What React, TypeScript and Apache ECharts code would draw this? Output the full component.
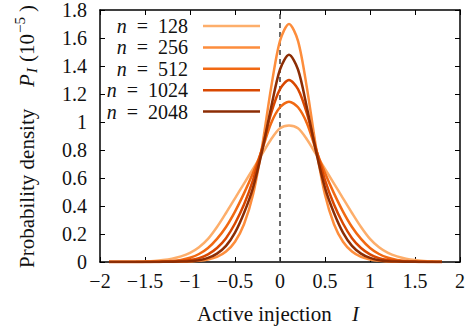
import React, { useEffect, useRef } from "react";
import * as echarts from "echarts";

// Sample positions (Active injection I)
const xValues = [
  -1.9, -1.8, -1.7, -1.6, -1.5, -1.4, -1.3, -1.2, -1.1, -1.0,
  -0.9, -0.8, -0.7, -0.6, -0.5, -0.4, -0.3, -0.2, -0.1, 0.0,
  0.1, 0.2, 0.3, 0.4, 0.5, 0.6, 0.7, 0.8, 0.9, 1.0,
  1.1, 1.2, 1.3, 1.4, 1.5, 1.6, 1.7, 1.8,
];

// Probability density values (units of 1e-5)
const p128 = [
  0.001, 0.001, 0.002, 0.003, 0.005, 0.008, 0.014, 0.024, 0.04, 0.065,
  0.105, 0.165, 0.25, 0.35, 0.455, 0.56, 0.665, 0.77, 0.875, 0.955,
  0.975, 0.955, 0.875, 0.77, 0.665, 0.56, 0.455, 0.35, 0.25, 0.165,
  0.105, 0.065, 0.04, 0.024, 0.014, 0.008, 0.005, 0.003,
];
const p256 = [
  0, 0, 0, 0, 0, 0, 0.001, 0.001, 0.002, 0.004,
  0.008, 0.018, 0.037, 0.075, 0.145, 0.27, 0.48, 0.82, 1.24, 1.58,
  1.7, 1.58, 1.24, 0.82, 0.48, 0.27, 0.145, 0.075, 0.037, 0.018,
  0.008, 0.004, 0.002, 0.001, 0.001, 0, 0, 0,
];
const p512 = [
  0, 0, 0, 0, 0.001, 0.002, 0.0035, 0.007, 0.015, 0.03,
  0.057, 0.1, 0.165, 0.25, 0.36, 0.49, 0.635, 0.8, 0.99, 1.105,
  1.145, 1.105, 0.99, 0.8, 0.635, 0.49, 0.36, 0.25, 0.165, 0.1,
  0.057, 0.03, 0.015, 0.007, 0.0035, 0.002, 0.001, 0,
];
const p1024 = [
  0, 0, 0, 0, 0, 0.001, 0.0015, 0.003, 0.007, 0.014,
  0.028, 0.055, 0.1, 0.17, 0.275, 0.41, 0.585, 0.81, 1.06, 1.235,
  1.3, 1.235, 1.06, 0.81, 0.585, 0.41, 0.275, 0.17, 0.1, 0.055,
  0.028, 0.014, 0.007, 0.003, 0.0015, 0.001, 0, 0,
];
const p2048 = [
  0, 0, 0, 0, 0, 0, 0.001, 0.0015, 0.003, 0.006,
  0.013, 0.029, 0.06, 0.115, 0.21, 0.35, 0.53, 0.79, 1.1, 1.375,
  1.48, 1.375, 1.1, 0.79, 0.53, 0.35, 0.21, 0.115, 0.06, 0.029,
  0.013, 0.006, 0.003, 0.0015, 0.001, 0, 0, 0,
];

const nLabels = ["128", "256", "512", "1024", "2048"];
const seriesValues = [p128, p256, p512, p1024, p2048];
const seriesColors = ["#fdae6b", "#fd8d3c", "#f16913", "#d94801", "#8c2d04"];

const xTickValues = [-2, -1.5, -1, -0.5, 0, 0.5, 1, 1.5, 2];
const xTickLabels = ["\u22122", "\u22121.5", "\u22121", "\u22120.5", "0", "0.5", "1", "1.5", "2"];
const yTickLabels = ["0", "0.2", "0.4", "0.6", "0.8", "1", "1.2", "1.4", "1.6", "1.8"];

const FONT = "Liberation Serif";
const TXT = "#111";

export default function App() {
  const ref = useRef<HTMLDivElement>(null);
  useEffect(() => {
    document.body.style.margin = "0";
    if (!ref.current) return;
    const chart = echarts.init(ref.current, null, { renderer: "svg" });

    const tickStyle = { show: true, inside: true, length: 5, lineStyle: { color: "#000", width: 1 } };
    const lineStyle = { show: true, onZero: false, lineStyle: { color: "#000", width: 1.5 } };

    const legendGraphics: any[] = [];
    nLabels.forEach((n, i) => {
      const y = 26 + i * 21.4;
      const restWidth = 31.3 + 10 * n.length;
      legendGraphics.push({
        type: "text",
        x: 188,
        y,
        style: {
          text: "=\u2002" + n,
          fontSize: 20,
          fontFamily: FONT,
          fill: TXT,
          align: "right",
          verticalAlign: "middle",
        },
      });
      legendGraphics.push({
        type: "text",
        x: 188 - restWidth,
        y,
        style: {
          text: "n",
          fontSize: 20,
          fontStyle: "italic",
          fontFamily: FONT,
          fill: TXT,
          align: "right",
          verticalAlign: "middle",
        },
      });
      legendGraphics.push({
        type: "line",
        shape: { x1: 203, y1: y, x2: 260, y2: y },
        style: { stroke: seriesColors[i], lineWidth: 2.5 },
      });
    });

    const labelText = {
      fontSize: 20,
      fontFamily: FONT,
      fontStyle: "normal",
      fontWeight: "normal",
      color: TXT,
    };

    const option: any = {
      animation: false,
      textStyle: { fontFamily: FONT },
      grid: { left: 100, right: 11, top: 9, bottom: 73 },
      xAxis: [
        {
          type: "value", min: -2, max: 2, interval: 0.5, position: "bottom",
          axisLine: lineStyle, axisTick: tickStyle, splitLine: { show: false },
          axisLabel: {
            ...labelText,
            margin: 9,
            formatter: (v: number) => {
              const k = xTickValues.findIndex((t) => Math.abs(t - v) < 1e-6);
              return k >= 0 ? xTickLabels[k] : "";
            },
          },
        },
        {
          type: "value", min: -2, max: 2, interval: 0.5, position: "top",
          axisLine: lineStyle, axisTick: tickStyle, splitLine: { show: false },
          axisLabel: { show: false },
        },
      ],
      yAxis: [
        {
          type: "value", min: 0, max: 1.8, interval: 0.2, position: "left",
          axisLine: lineStyle, axisTick: tickStyle, splitLine: { show: false },
          axisLabel: {
            ...labelText,
            margin: 13,
            formatter: (v: number) => yTickLabels[Math.round(v / 0.2)] ?? "",
          },
        },
        {
          type: "value", min: 0, max: 1.8, interval: 0.2, position: "right",
          axisLine: lineStyle, axisTick: tickStyle, splitLine: { show: false },
          axisLabel: { show: false },
        },
      ],
      series: [
        {
          type: "line",
          name: "zero",
          data: [[0, 0], [0, 1.8]],
          symbol: "none",
          silent: true,
          lineStyle: { type: [5, 4], width: 1.5, color: "#3a3a3a" },
          z: 1,
        },
        ...seriesValues.map((vals, i) => ({
          type: "line",
          name: "n = " + nLabels[i],
          data: xValues.map((x, j) => [x, vals[j]]),
          symbol: "none",
          smooth: 0.3,
          lineStyle: { width: 2.5, color: seriesColors[i] },
          itemStyle: { color: seriesColors[i] },
          z: 2 + i,
        })),
      ],
      graphic: [
        ...legendGraphics,
        {
          type: "group",
          x: 27,
          y: 268,
          rotation: Math.PI / 2,
          children: [
            { type: "text", x: 0, y: 0, style: { text: "Probability density", fontSize: 21, fontFamily: FONT, fill: TXT, align: "left", verticalAlign: "middle" } },
            { type: "text", x: 181, y: 0, style: { text: "P", fontSize: 21, fontStyle: "italic", fontFamily: FONT, fill: TXT, align: "left", verticalAlign: "middle" } },
            { type: "text", x: 195, y: 5, style: { text: "I", fontSize: 15, fontStyle: "italic", fontFamily: FONT, fill: TXT, align: "left", verticalAlign: "middle" } },
            { type: "text", x: 206, y: 0, style: { text: "(10", fontSize: 21, fontFamily: FONT, fill: TXT, align: "left", verticalAlign: "middle" } },
            { type: "text", x: 235, y: -7, style: { text: "\u22125", fontSize: 15, fontFamily: FONT, fill: TXT, align: "left", verticalAlign: "middle" } },
            { type: "text", x: 256, y: 0, style: { text: ")", fontSize: 21, fontFamily: FONT, fill: TXT, align: "left", verticalAlign: "middle" } },
          ],
        },
        { type: "text", x: 197, y: 314, style: { text: "Active injection", fontSize: 21, fontFamily: FONT, fill: TXT, align: "left", verticalAlign: "middle" } },
        { type: "text", x: 352, y: 314, style: { text: "I", fontSize: 21, fontStyle: "italic", fontFamily: FONT, fill: TXT, align: "left", verticalAlign: "middle" } },
      ],
    };
    chart.setOption(option);
    return () => chart.dispose();
  }, []);
  return <div ref={ref} style={{ width: 471, height: 335 }} />;
}
